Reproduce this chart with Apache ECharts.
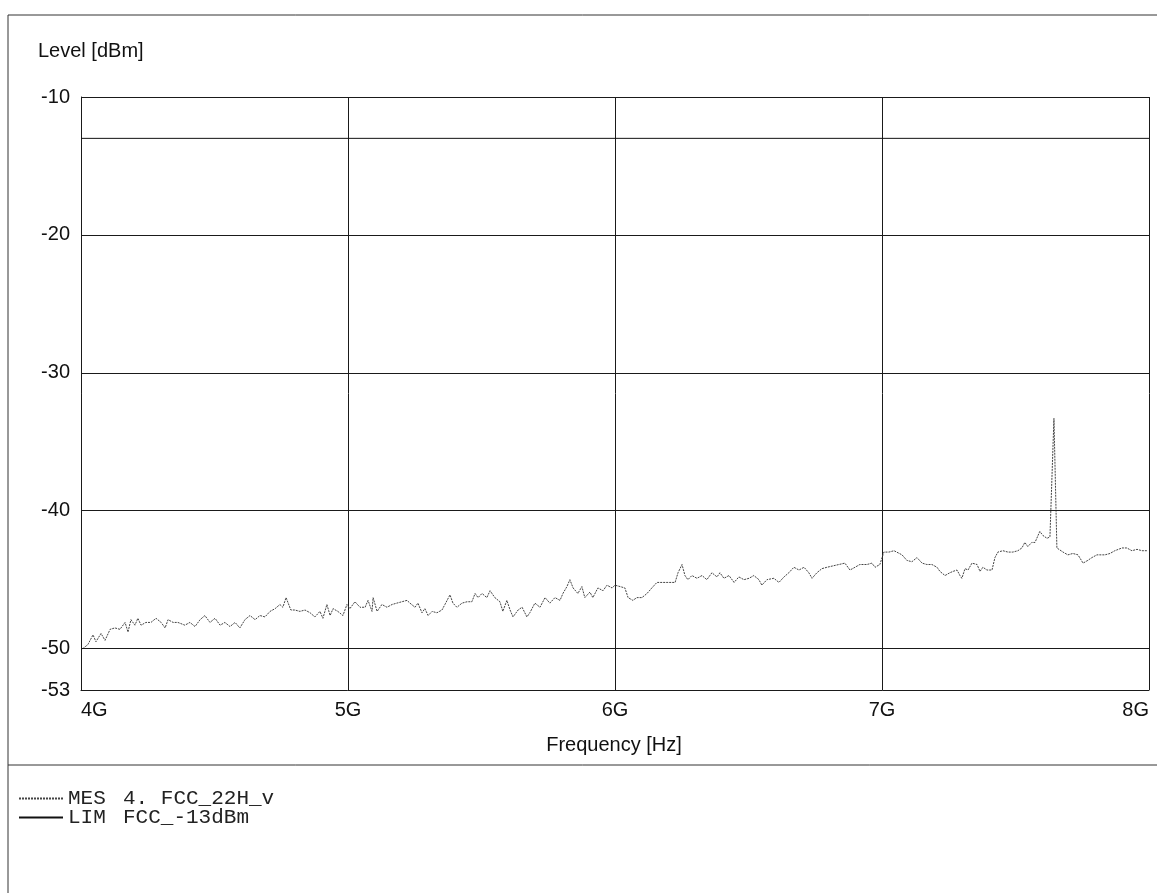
<!DOCTYPE html>
<html>
<head>
<meta charset="utf-8">
<script src="https://cdn.jsdelivr.net/npm/echarts@6/dist/echarts.min.js"></script>
<style>
html,body{margin:0;padding:0;background:#fff;}
#c{width:1157px;height:893px;}
</style>
</head>
<body>
<div id="c"></div>
<script>
// ---- data ----
const xTicksMHz = [4000, 5000, 6000, 7000, 8000];
const xTickLabels = ['4G', '5G', '6G', '7G', '8G'];
const yTickValues = [-53, -50, -40, -30, -20, -10];
const yGridValues = [-10, -20, -30, -40, -50];
const limitName = 'LIM';
const limitLabel = 'FCC_-13dBm';
const limitDbm = -13;
const traceName = 'MES';
const traceLabel = '4. FCC_22H_v';

const freqMHz = [
4007,4026,4045,4056,4075,4090,4109,4127,4146,4165,4176,4187,4202,4213,4225,4243,4262,4281,4300,4315,
4326,4345,4363,4389,4408,4427,4446,4464,4483,4502,4521,4539,4558,4577,4595,4614,4633,4652,4670,4689,
4708,4727,4745,4756,4768,4786,4801,4820,4839,4858,4876,4895,4906,4921,4933,4944,4962,4981,4996,5007,
5026,5045,5064,5075,5090,5094,5109,5127,5146,5165,5183,5202,5221,5232,5251,5262,5277,5288,5300,5315,
5333,5352,5363,5382,5393,5408,5427,5446,5464,5476,5487,5502,5520,5532,5550,5569,5580,5595,5607,5618,
5637,5652,5670,5681,5700,5719,5738,5756,5775,5794,5805,5820,5831,5843,5861,5876,5887,5906,5917,5936,
5955,5970,5989,6000,6019,6037,6049,6067,6082,6101,6120,6138,6157,6176,6195,6213,6225,6236,6251,6262,
6273,6288,6307,6326,6344,6363,6382,6393,6408,6427,6446,6464,6483,6502,6520,6539,6550,6569,6595,6614,
6633,6651,6670,6689,6708,6726,6738,6756,6775,6794,6861,6880,6899,6917,6944,6962,6974,6992,7007,7026,
7045,7075,7093,7112,7131,7150,7168,7187,7206,7217,7236,7254,7266,7281,7292,7299,7311,7322,7337,7356,
7367,7378,7393,7412,7423,7434,7453,7472,7490,7509,7524,7535,7546,7561,7573,7591,7603,7618,7629,7633,
7644,7655,7678,7696,7715,7734,7753,7771,7786,7805,7835,7854,7872,7899,7917,7936,7955,7974,7993
];
const levelDbm = [
-50.0,-49.7,-49.0,-49.5,-48.9,-49.4,-48.6,-48.5,-48.6,-48.1,-48.8,-47.9,-48.3,-47.8,-48.3,-48.1,-48.1,-47.8,-48.1,-48.5,
-47.9,-48.1,-48.1,-48.3,-48.1,-48.4,-47.9,-47.6,-48.1,-47.8,-48.3,-48.1,-48.4,-48.1,-48.5,-47.9,-47.6,-47.9,-47.6,-47.7,
-47.3,-47.1,-46.8,-47.0,-46.3,-47.2,-47.2,-47.3,-47.2,-47.4,-47.7,-47.3,-47.8,-46.8,-47.6,-47.1,-47.3,-47.6,-46.8,-47.1,
-46.6,-47.0,-47.0,-46.5,-47.3,-46.3,-47.3,-46.8,-47.0,-46.8,-46.7,-46.6,-46.5,-46.7,-47.0,-46.7,-47.4,-47.1,-47.6,-47.3,
-47.4,-47.2,-46.8,-46.1,-46.7,-47.0,-46.7,-46.6,-46.6,-46.0,-46.3,-46.0,-46.3,-45.8,-46.3,-46.6,-47.3,-46.5,-47.2,-47.7,
-47.2,-47.0,-47.7,-47.4,-46.7,-47.0,-46.3,-46.7,-46.3,-46.5,-46.0,-45.5,-45.0,-45.6,-46.0,-45.5,-46.3,-45.9,-46.3,-45.6,
-45.8,-45.4,-45.6,-45.4,-45.5,-45.6,-46.3,-46.5,-46.3,-46.3,-46.0,-45.6,-45.2,-45.2,-45.2,-45.2,-45.2,-44.5,-43.9,-44.7,
-45.0,-44.7,-44.9,-44.7,-45.0,-44.5,-44.8,-44.5,-44.9,-44.7,-45.2,-44.8,-45.0,-44.9,-44.7,-45.0,-45.4,-45.0,-44.9,-45.2,
-44.8,-44.5,-44.1,-44.3,-44.1,-44.5,-44.9,-44.5,-44.2,-44.1,-43.8,-44.3,-44.1,-43.9,-43.9,-43.8,-44.1,-43.9,-43.0,-43.0,
-42.9,-43.2,-43.6,-43.7,-43.4,-43.8,-43.9,-43.9,-44.1,-44.4,-44.7,-44.5,-44.4,-44.3,-44.7,-44.9,-44.2,-44.3,-43.8,-43.9,
-44.4,-44.1,-44.3,-44.3,-43.4,-43.0,-42.9,-43.0,-43.0,-42.9,-42.7,-42.3,-42.6,-42.3,-42.3,-41.5,-41.8,-42.0,-41.9,-42.0,
-33.3,-42.7,-43.0,-43.2,-43.1,-43.2,-43.8,-43.6,-43.4,-43.2,-43.2,-43.1,-42.9,-42.7,-42.7,-42.9,-42.8,-42.9,-42.9
];

const traceData = freqMHz.map((f, i) => [f, levelDbm[i]]);
const limitData = [[xTicksMHz[0], limitDbm], [xTicksMHz[xTicksMHz.length - 1], limitDbm]];

const chart = echarts.init(document.getElementById('c'), null, {renderer: 'canvas'});
const sans = 'Liberation Sans, Arial, sans-serif';
const mono = 'Liberation Mono, Courier New, monospace';
const lineCol = '#1a1a1a';

chart.setOption({
  animation: false,
  backgroundColor: '#fff',
  grid: {left: 81, right: 8, top: 97, bottom: 203, containLabel: false},
  xAxis: {
    type: 'value',
    min: xTicksMHz[0],
    max: xTicksMHz[xTicksMHz.length - 1],
    interval: 1000,
    axisLine: {show: true, onZero: false, lineStyle: {color: lineCol, width: 1}},
    axisTick: {show: false},
    splitLine: {show: true, lineStyle: {color: lineCol, width: 1}},
    axisLabel: {
      margin: 10,
      fontFamily: sans, fontSize: 20, color: '#111',
      alignMinLabel: 'left', alignMaxLabel: 'right',
      formatter: v => xTickLabels[xTicksMHz.indexOf(v)] || ''
    }
  },
  yAxis: {
    type: 'value',
    min: yTickValues[0],
    max: yTickValues[yTickValues.length - 1],
    axisLine: {show: true, lineStyle: {color: lineCol, width: 1}},
    axisTick: {show: false},
    splitLine: {show: false},
    axisLabel: {
      customValues: yTickValues,
      margin: 11,
      fontFamily: sans, fontSize: 20, color: '#111'
    }
  },
  legend: {
    orient: 'vertical',
    left: 13,
    top: 783,
    itemWidth: 44,
    itemHeight: 6,
    itemGap: -2,
    itemStyle: {opacity: 0},
    data: [traceName, limitName],
    formatter: name => {
      const lbl = name === traceName ? traceLabel : limitLabel;
      return '{a|' + name + '}{b|' + lbl + '}';
    },
    textStyle: {
      fontFamily: mono, fontSize: 21, color: '#222', lineHeight: 19,
      rich: {
        a: {fontFamily: mono, fontSize: 21, color: '#222', width: 55, lineHeight: 19},
        b: {fontFamily: mono, fontSize: 21, color: '#222', lineHeight: 19}
      }
    }
  },
  graphic: [
    {type: 'line', shape: {x1: 8, y1: 15, x2: 1157, y2: 15}, style: {stroke: '#333', lineWidth: 1}},
    {type: 'line', shape: {x1: 8, y1: 15, x2: 8, y2: 893}, style: {stroke: '#333', lineWidth: 1}},
    {type: 'line', shape: {x1: 8, y1: 765, x2: 1157, y2: 765}, style: {stroke: '#333', lineWidth: 1}},
    {type: 'text', left: 38, top: 41, style: {text: 'Level [dBm]', font: '20px ' + sans, fill: '#111'}},
    {type: 'text', x: 614, y: 745, style: {text: 'Frequency [Hz]', font: '20px ' + sans, fill: '#111', textAlign: 'center', textVerticalAlign: 'middle'}}
  ],
  series: [
    {
      name: traceName,
      type: 'line',
      data: traceData,
      symbol: 'none',
      lineStyle: {color: '#444', width: 1, type: [2, 1]},
      itemStyle: {color: '#444'},
      z: 3,
      markLine: {
        silent: true,
        symbol: 'none',
        label: {show: false},
        lineStyle: {color: lineCol, width: 1, type: 'solid'},
        data: yGridValues.map(v => ({yAxis: v}))
      }
    },
    {
      name: limitName,
      type: 'line',
      data: limitData,
      symbol: 'none',
      lineStyle: {color: '#111', width: 1, type: 'solid'},
      itemStyle: {color: '#111'},
      z: 2
    }
  ]
});
</script>
</body>
</html>
